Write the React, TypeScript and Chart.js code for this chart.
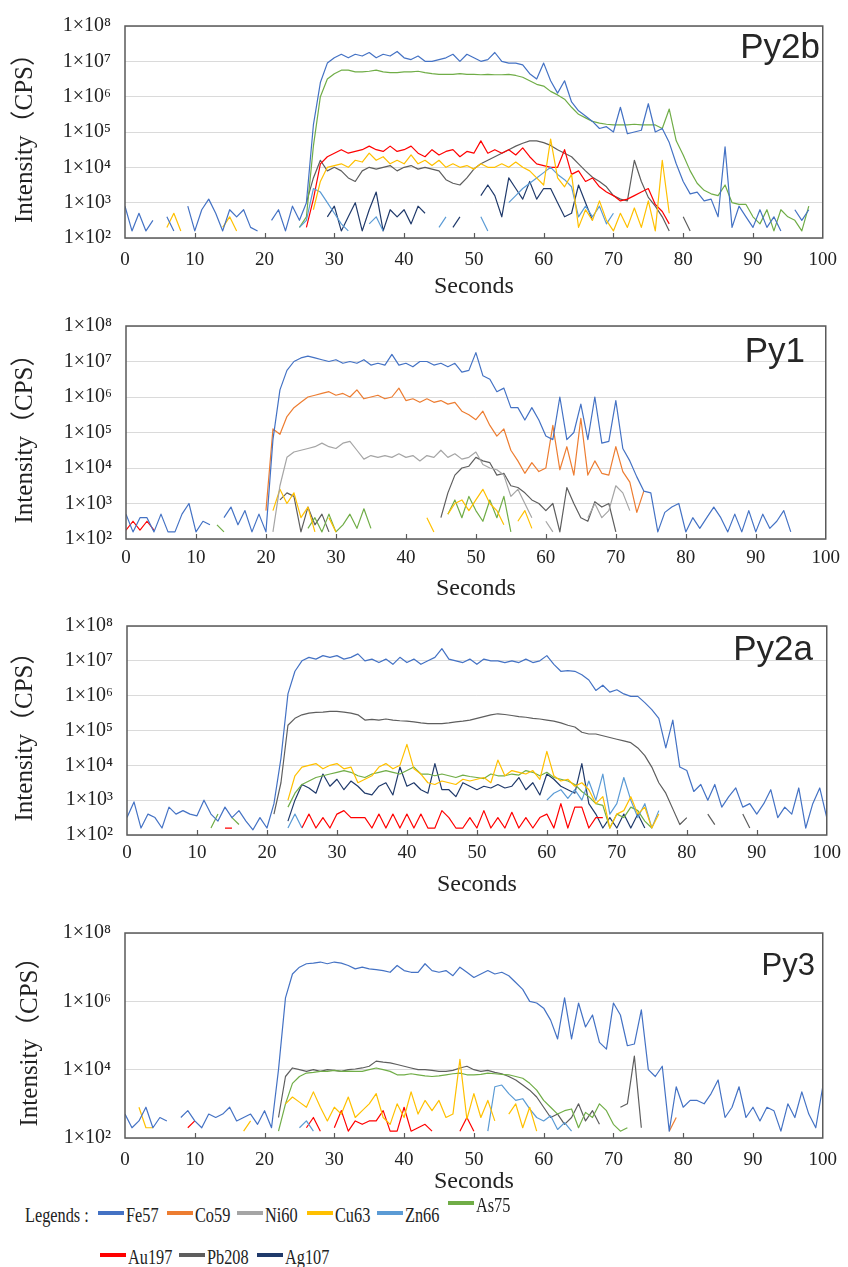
import React, { useEffect, useRef } from "react";
import { Chart, registerables } from "chart.js";

Chart.register(...registerables);

const _ = null;
const gap = (n: number): null[] => Array(n).fill(null);

// Sampling times in seconds (one reading per second)
const seconds: number[] = Array.from({ length: 101 }, (_v, i) => i);
const secondTicks = [0, 10, 20, 30, 40, 50, 60, 70, 80, 90, 100];

// ---- All intensities are log10(CPS); null = no signal ----

// Py2b
const py2bFe57 = [
  2.9, 2.2, 2.7, 2.2, 2.5, _, 2.6, 2.2, _, 2.9,
  2.2, 2.8, 3.1, 2.7, 2.2, 2.8, 2.6, 2.8, 2.3, 2.2,
  _, 2.5, 2.8, 2.2, 2.9, 2.5, 3.0, 5.2, 6.4, 6.95,
  7.1, 7.2, 7.1, 7.2, 7.15, 7.25, 7.1, 7.2, 7.15, 7.28,
  7.1, 7.05, 7.15, 7.0, 7.0, 7.05, 7.1, 7.2, 7.0, 7.2,
  7.1, 7.0, 7.05, 7.25, 7.0, 6.95, 6.95, 6.9, 6.65, 6.5,
  6.95, 6.45, 6.1, 6.45, 5.85, 5.6, 5.45, 5.3, 5.1, 5.15,
  5.0, 5.7, 4.95, 5.0, 5.05, 5.8, 5.0, 5.1, 4.7, 4.1,
  3.6, 3.25, 3.3, 3.05, 3.1, 2.6, 4.58, 2.3, 2.9, 2.6,
  2.3, 2.8, 2.3, 2.6, 2.2, _, 2.8, 2.5, 2.8,
];
const py2bAs75 = [
  ...gap(25), 2.3, 2.6, 4.6, 6.0, 6.5,
  6.65, 6.75, 6.75, 6.7, 6.7, 6.72, 6.75, 6.7, 6.68, 6.68,
  6.7, 6.7, 6.72, 6.68, 6.65, 6.63, 6.63, 6.63, 6.65, 6.63,
  6.63, 6.62, 6.63, 6.62, 6.62, 6.63, 6.6, 6.55, 6.45, 6.35,
  6.3, 6.15, 6.05, 5.93, 5.7, 5.5, 5.4, 5.3, 5.25, 5.22,
  5.2, 5.2, 5.2, 5.22, 5.2, 5.2, 5.2, 5.1, 5.65, 4.75,
  4.35, 3.9, 3.55, 3.35, 3.25, 3.2, 3.5, 3.0, 2.95, 2.95,
  2.6, 2.4, 2.8, 2.2, 2.8, 2.6, 2.5, 2.2, 2.9,
];
const py2bAu197 = [
  ...gap(26), 2.3, 3.1, 4.1, 4.3,
  4.4, 4.5, 4.4, 4.45, 4.5, 4.6, 4.5, 4.45, 4.6, 4.45,
  4.5, 4.6, 4.4, 4.3, 4.5, 4.35, 4.45, 4.5, 4.3, 4.45,
  4.4, 4.75, 4.4, 4.5, 4.4, 4.5, 4.35, 4.55, 4.3, 4.1,
  4.05, 4.0, 4.0, 4.5, 3.8, 3.9, 3.6, 3.7, 3.45, 3.3,
  3.2, 3.05, 3.1, 3.2, 3.3, 3.4, 2.95, 2.75, 2.4,
];
const py2bCu63 = [
  _, _, _, _, _, _, 2.3, 2.7, 2.2, _,
  _, _, _, _, 2.3, 2.6, 2.2, _, _, _,
  _, _, _, _, _, _, _, 2.8, 3.6, 4.0,
  4.05, 4.1, 4.0, 4.2, 4.15, 4.4, 4.2, 4.3, 4.1, 4.2,
  4.1, 4.35, 4.1, 4.2, 4.05, 4.2, 4.0, 4.1, 4.0, 4.05,
  3.95, 4.1, 4.0, 4.0, 4.1, 4.0, 4.15, 4.0, 3.9, 3.7,
  3.5, 4.8, 3.7, 3.45, 3.8, 2.3, 2.8, 2.5, 3.05, 2.5,
  2.2, 2.7, 2.3, 2.85, 2.3, 3.05, 2.2, 4.2, 2.7,
];
const py2bPb208 = [
  ...gap(26), 3.0, 3.7, 4.2, 3.9,
  4.0, 3.9, 3.7, 3.6, 3.9, 4.0, 3.95, 4.0, 4.05, 3.9,
  4.0, 4.05, 3.95, 4.0, 3.95, 3.9, 3.65, 3.55, 3.5, 3.7,
  3.95, 4.1, 4.2, 4.3, 4.4, 4.5, 4.6, 4.68, 4.75, 4.75,
  4.7, 4.62, 4.5, 4.4, 4.3, 4.1, 3.9, 3.72, 3.6, 3.45,
  3.2, 3.1, 3.05, 4.2, 3.6, 3.15, 2.9, 2.6, 2.2, _,
  2.6, 2.2,
];
const py2bAg107 = [
  ...gap(29), 2.6,
  2.9, 2.2, 2.6, 3.0, 2.2, 2.8, 3.3, 2.2, 2.8, 2.6,
  2.8, 2.4, 2.9, 2.7, _, _, _, 2.3, 2.6, _,
  _, 3.2, 3.5, 3.2, 2.6, 3.7, 3.4, 3.1, 3.6, 3.1,
  3.4, 3.4, 3.0, 2.6, 2.7, 3.5, 3.0, 2.5,
];
const py2bZn66 = [
  ...gap(25), 2.3, 2.5, 3.4, 3.3, 3.0,
  2.7, 2.4, 2.2, _, _, 2.4, 2.6, 2.2, _, _,
  _, _, _, _, _, 2.3, 2.6, _, _, _,
  _, 2.6, 2.2, _, _, 3.0, 3.2, 3.4, 3.55, 3.7,
  3.85, 4.0, 3.8, 3.65, 3.45, 2.6, 2.9, 2.6, 2.9, 2.4,
  2.7,
];

// Py1
const py1Fe57 = [
  2.7, 2.2, 2.6, 2.6, 2.2, 2.7, 2.2, 2.2, 2.7, 3.0,
  2.2, 2.5, 2.4, _, 2.6, 2.9, 2.4, 2.8, 2.2, 2.7,
  2.2, 4.8, 6.2, 6.75, 7.0, 7.1, 7.15, 7.1, 7.05, 7.0,
  7.05, 6.95, 7.0, 6.95, 7.05, 6.9, 6.95, 6.9, 7.2, 6.9,
  6.95, 6.85, 7.0, 7.0, 6.9, 6.95, 6.85, 6.95, 6.7, 6.75,
  7.25, 6.6, 6.5, 6.15, 6.25, 5.7, 5.7, 5.35, 5.7, 5.35,
  4.9, 4.8, 6.0, 4.8, 5.0, 5.8, 4.8, 6.0, 4.7, 4.75,
  5.9, 4.55, 4.2, 3.75, 3.35, 3.3, 2.2, 2.75, 2.9, 3.0,
  2.2, 2.6, 2.3, 2.6, 2.9, 2.6, 2.2, 2.7, 2.2, 2.8,
  2.2, 2.7, 2.3, 2.5, 2.8, 2.2,
];
const py1Co59 = [
  ...gap(20),
  2.8, 5.1, 4.95, 5.45, 5.7, 5.85, 6.0, 6.05, 6.1, 6.15,
  6.05, 6.1, 6.0, 6.2, 5.95, 6.0, 6.05, 5.95, 6.0, 6.25,
  5.9, 5.95, 5.85, 5.95, 5.85, 5.9, 5.8, 5.85, 5.6, 5.5,
  5.36, 5.6, 5.2, 4.9, 5.1, 4.5, 4.2, 3.85, 4.15, 3.9,
  4.0, 5.2, 3.95, 4.6, 3.8, 5.4, 3.8, 4.2, 3.85, 3.8,
  4.6, 3.9, 3.6, 2.75, 3.35,
];
const py1Ni60 = [
  ...gap(21), 2.2, 3.5, 4.3, 4.45, 4.5, 4.55, 4.6, 4.7, 4.6,
  4.55, 4.7, 4.75, 4.5, 4.25, 4.35, 4.3, 4.35, 4.3, 4.4,
  4.3, 4.35, 4.2, 4.35, 4.3, 4.5, 4.3, 4.4, 4.25, 4.3,
  4.45, 4.1, 4.0, 3.95, 3.8, 3.2, 3.4, 3.0, 2.6, _,
  2.5, 2.2, _, _, _, _, 2.6, 3.0, 2.6, 2.8,
  3.5, 3.3, 2.8,
];
const py1Pb208 = [
  ...gap(22), 3.1, 3.3, 3.2, 2.2, 2.9, 2.4, 2.7, 2.2,
  ...gap(15), 2.6, 3.3, 3.8, 4.0, 4.05,
  4.3, 4.2, 4.15, 3.8, 3.85, 3.5, 3.45, 3.3, 3.1, 3.0,
  2.8, 3.0, 2.2, 3.45, 3.0, 2.6, 2.5, 3.05, 2.9, 3.0,
  2.2,
];
const py1Cu63 = [
  ...gap(21), 2.8, 3.4, 3.0, 3.3, 2.6, 2.9, 2.2, _, 2.6,
  2.2, ...gap(12), 2.6, 2.2, _,
  2.7, 3.0, 3.1, 2.8, 3.1, 3.4, 3.0, 2.8, 2.4,
  _, 2.5, 2.8, 2.3,
];
const py1As75 = [
  ...gap(13), 2.4, 2.2,
  ...gap(11), 2.3, 2.6, 2.2, 2.7, 2.2, 2.4, 2.7, 2.3, 2.85, 2.3,
  ...gap(10), 2.7, 3.1, 2.6, 3.2, 2.8, 2.5, 3.1, 2.6, 3.2, 2.2,
];
const py1Au197 = [2.25, 2.5, 2.25, 2.5, 2.25];

// Py2a
const py2aFe57 = [
  2.5, 2.95, 2.2, 2.6, 2.5, 2.2, 2.8, 2.6, 2.7, 2.6,
  2.55, 3.0, 2.6, 2.4, 2.8, 2.5, 2.7, 2.4, 2.15, 2.5,
  2.2, 2.9, 4.2, 6.05, 6.7, 7.0, 7.1, 7.05, 7.15, 7.1,
  7.15, 7.05, 7.1, 7.2, 7.0, 7.05, 6.95, 7.05, 6.9, 7.1,
  6.95, 7.05, 6.9, 7.0, 7.1, 7.35, 7.05, 7.0, 6.95, 7.05,
  6.9, 7.05, 7.0, 7.0, 6.95, 7.0, 6.95, 7.05, 6.95, 7.0,
  7.15, 6.9, 6.7, 6.72, 6.7, 6.6, 6.45, 6.15, 6.3, 6.1,
  6.17, 6.05, 5.98, 5.98, 5.8, 5.6, 5.35, 4.5, 5.3, 3.95,
  3.85, 3.25, 3.45, 3.0, 3.45, 2.8, 3.1, 3.35, 2.8, 2.9,
  2.6, 2.9, 3.3, 2.5, 2.8, 2.6, 3.35, 2.2, 2.9, 3.35,
  2.5,
];
const py2aPb208 = [
  ...gap(21), 2.6, 3.5, 5.15, 5.35, 5.45, 5.5, 5.52, 5.53, 5.55,
  5.55, 5.53, 5.5, 5.45, 5.3, 5.32, 5.3, 5.33, 5.3, 5.28,
  5.27, 5.25, 5.22, 5.2, 5.2, 5.2, 5.22, 5.25, 5.27, 5.3,
  5.35, 5.4, 5.45, 5.48, 5.46, 5.43, 5.4, 5.38, 5.35, 5.33,
  5.3, 5.27, 5.22, 5.15, 5.1, 4.95, 4.9, 4.9, 4.85, 4.8,
  4.75, 4.7, 4.65, 4.5, 4.28, 3.95, 3.5, 3.2, 2.75, 2.3,
  2.5, _, _, 2.6, 2.3, _, _, _, 2.6, 2.2,
];
const py2aCu63 = [
  ...gap(23), 3.0, 3.7, 3.95, 4.0, 4.05, 3.9, 4.0,
  4.05, 3.9, 3.95, 3.5, 3.6, 3.7, 3.95, 4.05, 3.9, 4.0,
  4.6, 3.9, 3.75, 3.5, 3.45, 3.55, 3.5, 3.45, 3.6, 3.55,
  3.6, 3.65, 3.5, 4.15, 3.7, 3.85, 3.8, 3.75, 3.85, 3.6,
  4.4, 3.7, 3.55, 3.6, 3.4, 3.5, 3.3, 2.9, 3.1, 2.2,
  2.6, 2.7, 3.1, 2.6, 2.8, 2.2, 2.6,
];
const py2aAs75 = [
  ...gap(12), 2.2, 2.6, _, 2.5, 2.3,
  ...gap(6), 2.8, 3.2, 3.45, 3.55, 3.65, 3.7, 3.75,
  3.8, 3.85, 3.8, 3.7, 3.65, 3.75, 3.8, 3.85, 3.8, 3.75,
  3.85, 3.95, 3.75, 3.75, 3.7, 3.75, 3.7, 3.65, 3.72, 3.68,
  3.65, 3.62, 3.75, 3.7, 3.7, 3.75, 3.72, 3.85, 3.8, 3.7,
  3.8, 3.65, 3.6, 3.55, 3.45, 3.25, 3.1, 2.9, 2.85, 2.2,
  2.6, 2.5, 2.8, 2.7, 2.4, 2.2,
];
const py2aAg107 = [
  ...gap(23), 2.4, 3.0, 3.45, 3.35, 3.2, 3.75, 3.4,
  3.6, 3.3, 3.55, 3.4, 3.2, 3.15, 3.4, 3.5, 3.15, 3.95,
  3.4, 3.5, 3.3, 3.2, 4.05, 3.3, 3.3, 3.1, 3.5, 3.4,
  3.3, 3.4, 3.35, 3.45, 3.35, 3.4, 3.65, 3.3, 3.5, 3.15,
  3.75, 3.6, 3.4, 3.3, 3.2, 4.05, 2.9, 2.6, 2.2, 2.5,
  2.2, 2.6, 2.2, 2.6, 2.2,
];
const py2aZn66 = [
  ...gap(23), 2.2, 2.6, 2.2,
  ...gap(34), 3.0, 3.2, 3.3, 3.05, 3.3, 3.0, 3.55, 3.0, 3.75, 2.6,
  2.9, 3.65, 3.0, 2.5, 2.9, 2.2, 2.7,
];
const py2aAu197 = [
  ...gap(14), 2.2, 2.2,
  ...gap(9), 2.2, 2.6, 2.2, 2.5, 2.2,
  2.6, 2.7, 2.5, 2.5, 2.5, 2.2, 2.6, 2.2, 2.6, 2.2,
  2.6, 2.2, 2.6, 2.2, 2.2, 2.7, 2.5, 2.2, 2.2, 2.5,
  2.2, 2.7, 2.2, 2.5, 2.2, 2.65, 2.2, 2.5, 2.2, 2.5,
  2.6, 2.2, 2.9, 2.2, 2.8, 2.8, 2.2, 2.5, 2.5,
];

// Py3
const py3Fe57 = [
  2.7, 2.3, 2.5, 2.9, 2.3, 2.6, 2.5, _, 2.6, 2.8,
  2.5, 2.3, 2.7, 2.6, 2.7, 2.9, 2.5, 2.6, 2.7, 2.4,
  2.8, 2.3, 4.0, 6.1, 6.8, 7.0, 7.1, 7.12, 7.15, 7.1,
  7.15, 7.12, 7.05, 6.95, 7.0, 6.95, 6.93, 6.9, 6.85, 7.05,
  6.9, 6.85, 6.85, 7.1, 6.9, 6.85, 6.9, 6.75, 7.0, 6.85,
  6.7, 6.8, 6.9, 6.8, 6.85, 6.75, 6.55, 6.35, 6.0, 5.95,
  5.8, 5.45, 4.9, 6.1, 4.9, 5.95, 5.25, 5.6, 4.8, 4.6,
  5.95, 5.6, 4.7, 4.75, 5.75, 4.0, 3.8, 4.1, 2.2, 3.5,
  2.9, 3.1, 3.1, 3.0, 3.3, 3.7, 2.6, 2.9, 3.5, 2.6,
  2.9, 2.5, 2.9, 2.8, 2.2, 3.0, 2.6, 3.35, 2.7, 2.3,
  3.5,
];
const py3Pb208 = [
  ...gap(22), 2.6, 3.8, 4.05, 4.0, 3.95, 4.0, 3.95, 4.0,
  3.98, 3.95, 4.0, 4.02, 4.05, 4.1, 4.25, 4.22, 4.2, 4.15,
  4.1, 4.05, 4.0, 4.0, 3.98, 3.95, 3.95, 3.98, 4.05, 4.1,
  4.0, 3.95, 3.98, 3.92, 3.88, 3.8, 3.7, 3.55, 3.4, 3.2,
  2.9, 2.6, 2.7, 2.4, 2.6, 3.0, 2.5, 2.8, 2.4, _,
  _, 2.9, 3.0, 4.4, 2.3,
];
const py3As75 = [
  ...gap(22), 2.2, 3.0, 3.6, 3.8, 3.9, 3.92, 3.95, 3.95,
  3.98, 3.95, 3.96, 3.95, 3.95, 4.0, 4.05, 4.0, 3.95, 3.85,
  3.85, 3.88, 3.85, 3.82, 3.8, 3.82, 3.85, 3.88, 3.9, 3.85,
  3.85, 3.86, 3.9, 3.88, 3.86, 3.85, 3.8, 3.75, 3.6, 3.4,
  3.1, 2.9, 2.7, 2.8, 2.85, 2.3, 2.75, 2.6, 3.0, 2.8,
  2.4, 2.2, 2.3,
];
const py3Cu63 = [
  _, _, 2.9, 2.3, 2.3,
  ...gap(12), 2.2, 2.5,
  ...gap(4), 3.0, 3.2, 3.05, 2.9, 3.35, 2.9, 2.5,
  2.9, 2.7, 3.2, 2.6, 2.8, 3.0, 3.3, 2.6, 2.4, 3.0,
  2.6, 3.35, 2.7, 3.1, 2.8, 3.1, 2.6, 2.7, 4.3, 2.55,
  3.3, 2.6, 3.1, 2.5, _, 2.7, 3.0, 2.3, 2.9, 2.2,
];
const py3Zn66 = [
  ...gap(25), 2.3, 2.5, 2.2,
  ...gap(24), 2.2, 3.5, 3.55, 3.3, 3.1, 3.15, 2.85, 2.6, 2.5, 2.65, 2.25, 2.45, 2.2,
];
const py3Au197 = [
  ...gap(9), 2.3, 2.5,
  ...gap(15), 2.3, 2.6, 2.2, _,
  2.3, 2.8, 2.2, 2.5, 2.4, 2.5, 2.5, 2.8, 2.2, 2.2,
  2.9, 2.2, 2.3, 2.4, 2.2, _, _, _, 2.2, 2.6,
  2.2,
];
const py3Co59 = [...gap(78), 2.2, 2.6];

// ---- styling ----
const ELEMENT_COLORS: Record<string, string> = {
  Fe57: "#4472C4",
  Co59: "#ED7D31",
  Ni60: "#A5A5A5",
  Cu63: "#FFC000",
  Zn66: "#5B9BD5",
  As75: "#70AD47",
  Au197: "#FF0000",
  Pb208: "#5E5E5E",
  Ag107: "#203A6B",
};

const SERIF = '"Liberation Serif", "Times New Roman", "Noto Sans CJK SC", serif';
const SANS = '"Liberation Sans", Arial, sans-serif';
const SUP: Record<number, string> = { 2: "²", 3: "³", 4: "⁴", 5: "⁵", 6: "⁶", 7: "⁷", 8: "⁸" };

type Panel = {
  id: string;
  top: number;
  height: number;
  plotTop: number;
  plotBottom: number;
  left: number;
  right: number;
  exps: number[];
  tickPad: number;
  xTitlePad: number;
  yTitleCenter: number;
  titleRight: number;
  titleBase: number;
  titleSize: number;
  series: [string, (number | null)[]][];
};

const PANELS: Panel[] = [
  {
    id: "Py2b", top: 0, height: 300, plotTop: 22, plotBottom: 238, left: 125, right: 829,
    exps: [2, 3, 4, 5, 6, 7, 8], tickPad: 11, xTitlePad: 3.4, yTitleCenter: 25,
    titleRight: 820, titleBase: 58, titleSize: 35,
    series: [["Fe57", py2bFe57], ["Cu63", py2bCu63], ["Zn66", py2bZn66], ["As75", py2bAs75],
      ["Au197", py2bAu197], ["Pb208", py2bPb208], ["Ag107", py2bAg107]],
  },
  {
    id: "Py1", top: 300, height: 300, plotTop: 315, plotBottom: 539, left: 126, right: 829,
    exps: [2, 3, 4, 5, 6, 7, 8], tickPad: 8, xTitlePad: 1.4, yTitleCenter: 25,
    titleRight: 805, titleBase: 362, titleSize: 35,
    series: [["Fe57", py1Fe57], ["Co59", py1Co59], ["Ni60", py1Ni60], ["Cu63", py1Cu63],
      ["As75", py1As75], ["Au197", py1Au197], ["Pb208", py1Pb208]],
  },
  {
    id: "Py2a", top: 600, height: 300, plotTop: 624, plotBottom: 835, left: 127, right: 828,
    exps: [2, 3, 4, 5, 6, 7, 8], tickPad: 7, xTitlePad: 5.4, yTitleCenter: 25,
    titleRight: 813, titleBase: 660, titleSize: 35,
    series: [["Fe57", py2aFe57], ["Cu63", py2aCu63], ["Zn66", py2aZn66], ["As75", py2aAs75],
      ["Au197", py2aAu197], ["Pb208", py2aPb208], ["Ag107", py2aAg107]],
  },
  {
    id: "Py3", top: 905, height: 290, plotTop: 933, plotBottom: 1138, left: 125, right: 829,
    exps: [2, 4, 6, 8], tickPad: 11, xTitlePad: 3.4, yTitleCenter: 30,
    titleRight: 815, titleBase: 975, titleSize: 31,
    series: [["Fe57", py3Fe57], ["Co59", py3Co59], ["Cu63", py3Cu63], ["Zn66", py3Zn66],
      ["As75", py3As75], ["Au197", py3Au197], ["Pb208", py3Pb208]],
  },
];

const LEGEND_ITEMS = [
  { name: "Fe57", x: 98, y: 1216 },
  { name: "Co59", x: 167, y: 1216 },
  { name: "Ni60", x: 237, y: 1216 },
  { name: "Cu63", x: 307, y: 1216 },
  { name: "Zn66", x: 377, y: 1216 },
  { name: "As75", x: 448, y: 1206 },
  { name: "Au197", x: 100, y: 1258 },
  { name: "Pb208", x: 179, y: 1258 },
  { name: "Ag107", x: 257, y: 1258 },
];

const framePlugin = {
  id: "frame",
  afterDatasetsDraw(chart: any, _args: any, opts: any) {
    const { ctx, chartArea: a, scales } = chart;
    ctx.save();
    ctx.strokeStyle = "#5a5a5a";
    ctx.lineWidth = 1.5;
    ctx.strokeRect(a.left, a.top, a.right - a.left, a.bottom - a.top);
    ctx.lineWidth = 1.2;
    for (const t of secondTicks) {
      if (t === 0 || t === 100) continue;
      const x = Math.round(scales.x.getPixelForValue(t)) + 0.5;
      ctx.beginPath();
      ctx.moveTo(x, a.bottom);
      ctx.lineTo(x, a.bottom - 5);
      ctx.stroke();
    }
    ctx.font = `${opts.size}px ${SANS}`;
    ctx.fillStyle = "#262626";
    ctx.textAlign = "right";
    ctx.textBaseline = "alphabetic";
    ctx.fillText(opts.text, opts.right, opts.base);
    ctx.restore();
  },
};

function buildConfig(p: Panel): any {
  const datasets = p.series.map(([name, vals]) => ({
    label: name,
    data: seconds.map((t, i) => ({
      x: t,
      y: vals[i] == null ? null : Math.pow(10, vals[i] as number),
    })),
    borderColor: ELEMENT_COLORS[name],
    backgroundColor: ELEMENT_COLORS[name],
    borderWidth: 1.2,
    borderJoinStyle: "round",
    pointRadius: 0,
    pointHoverRadius: 0,
    tension: 0,
    spanGaps: false,
    fill: false,
  }));
  const xAxisHeight = p.height - (p.plotBottom - p.top);
  return {
    type: "line",
    data: { datasets },
    plugins: [framePlugin],
    options: {
      animation: false,
      responsive: false,
      maintainAspectRatio: false,
      devicePixelRatio: 1,
      events: [],
      layout: { padding: { top: p.plotTop - p.top, right: 848 - p.right, left: 0, bottom: 0 } },
      plugins: {
        legend: { display: false },
        tooltip: { enabled: false },
        frame: {
          text: p.id,
          size: p.titleSize,
          right: p.titleRight,
          base: p.titleBase - p.top,
        },
      },
      scales: {
        x: {
          type: "linear",
          min: 0,
          max: 100,
          afterBuildTicks: (s: any) => {
            s.ticks = secondTicks.map((v) => ({ value: v }));
          },
          afterFit: (s: any) => {
            s.height = xAxisHeight;
          },
          ticks: {
            autoSkip: false,
            maxRotation: 0,
            padding: p.tickPad,
            color: "#222",
            font: { family: SERIF, size: 19 },
          },
          grid: { display: false, drawTicks: false },
          border: { display: false },
          title: {
            display: true,
            text: "Seconds",
            color: "#222",
            font: { family: SERIF, size: 24, lineHeight: 0.8 },
            padding: { top: 0, bottom: p.xTitlePad },
          },
        },
        y: {
          type: "logarithmic",
          min: 100,
          max: 1e8,
          afterBuildTicks: (s: any) => {
            s.ticks = p.exps.map((e) => ({ value: Math.pow(10, e) }));
          },
          afterFit: (s: any) => {
            s.width = p.left;
          },
          ticks: {
            autoSkip: false,
            padding: 14,
            color: "#222",
            font: { family: SERIF, size: 20 },
            callback: (v: number) => {
              const e = Math.round(Math.log10(v));
              return "1×10" + (SUP[e] || "");
            },
          },
          grid: { color: "#dadada", lineWidth: 1, drawTicks: false },
          border: { display: false },
          title: {
            display: true,
            text: "Intensity（CPS）",
            color: "#222",
            font: { family: SERIF, size: 25, lineHeight: 1 },
            padding: { top: p.yTitleCenter - 12.5, bottom: 0 },
          },
        },
      },
    },
  };
}

function PanelChart({ p }: { p: Panel }) {
  const ref = useRef<HTMLCanvasElement | null>(null);
  useEffect(() => {
    if (!ref.current) return;
    const chart = new Chart(ref.current, buildConfig(p));
    return () => chart.destroy();
  }, [p]);
  return (
    <canvas
      ref={ref}
      width={848}
      height={p.height}
      style={{ position: "absolute", left: 0, top: p.top, width: 848, height: p.height }}
    />
  );
}

const legendText: React.CSSProperties = {
  position: "absolute",
  fontFamily: SERIF,
  fontSize: 22,
  lineHeight: "26px",
  color: "#222",
  whiteSpace: "nowrap",
  transform: "scaleX(0.74)",
  transformOrigin: "left center",
};

export default function App() {
  return (
    <div
      style={{
        position: "absolute",
        left: 0,
        top: 0,
        width: 848,
        height: 1267,
        background: "#fff",
        overflow: "hidden",
      }}
    >
      {PANELS.map((p) => (
        <PanelChart key={p.id} p={p} />
      ))}
      <span style={{ ...legendText, left: 25, top: 1216 - 14 }}>Legends :</span>
      {LEGEND_ITEMS.map((it) => (
        <React.Fragment key={it.name}>
          <div
            style={{
              position: "absolute",
              left: it.x,
              top: it.y - 5,
              width: 26,
              height: 4,
              background: ELEMENT_COLORS[it.name],
            }}
          />
          <span style={{ ...legendText, left: it.x + 28, top: it.y - 14 }}>{it.name}</span>
        </React.Fragment>
      ))}
    </div>
  );
}
